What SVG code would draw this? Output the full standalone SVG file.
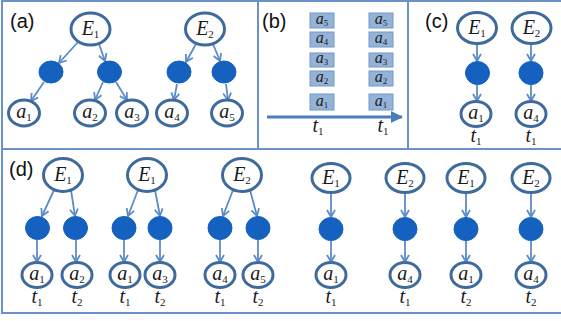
<svg xmlns="http://www.w3.org/2000/svg" width="561" height="321" viewBox="0 0 561 321">
<defs>
<marker id="arr" markerUnits="userSpaceOnUse" markerWidth="12" markerHeight="12" refX="9" refY="5" orient="auto">
<path d="M2,1 L9,5 L2,9" fill="none" stroke="#5b8bc9" stroke-width="1.8"/>
</marker>
<marker id="arrB" markerUnits="userSpaceOnUse" markerWidth="14" markerHeight="14" refX="11" refY="6" orient="auto">
<path d="M0,0 L12,6 L0,12 Z" fill="#4a7ebb"/>
</marker>
<style>
.frame{fill:none;stroke:#6a92c6;stroke-width:2}
.en{fill:#fff;stroke:#3f6a9c;stroke-width:3}
.dot{fill:#1461bf;stroke:#1461bf}
.e{stroke:#5b8bc9;stroke-width:1.8;fill:none;marker-end:url(#arr)}
.v{font-family:"Liberation Serif",serif;font-style:italic;font-size:20px;fill:#1a1a1a;text-anchor:middle}
.vb{font-size:16px}
.s{font-style:normal;font-size:11px}
.sb{font-style:normal;font-size:9px}
.lab{font-family:"Liberation Sans",sans-serif;font-size:20px;fill:#111}
.box{fill:#95b3d7;stroke:#7098cb;stroke-width:1}
</style>
</defs>
<rect x="0" y="0" width="561" height="321" fill="#fff"/>
<g id="frame">
<rect class="frame" x="2" y="1" width="562" height="312"/>
<line class="frame" x1="2" y1="149" x2="561" y2="149"/>
<line class="frame" x1="258" y1="1" x2="258" y2="149"/>
<line class="frame" x1="408" y1="1" x2="408" y2="149"/>
</g>
<g id="labels">
<text class="lab" x="10" y="28">(a)</text>
<text class="lab" x="262" y="28">(b)</text>
<text class="lab" x="425" y="28">(c)</text>
<text class="lab" x="9" y="176">(d)</text>
</g>
<g id="connectors">
<line class="e" x1="78" y1="42" x2="59" y2="63"/>
<line class="e" x1="99" y1="44" x2="105" y2="61"/>
<line class="e" x1="44" y1="82" x2="31" y2="101"/>
<line class="e" x1="103" y1="82" x2="95" y2="100"/>
<line class="e" x1="116" y1="82" x2="127" y2="100"/>
<line class="e" x1="196" y1="44" x2="186" y2="62"/>
<line class="e" x1="213" y1="44" x2="220" y2="61"/>
<line class="e" x1="177" y1="84" x2="174" y2="100"/>
<line class="e" x1="226" y1="84" x2="228" y2="100"/>
<line x1="267" y1="117" x2="402" y2="117" stroke="#4a7ebb" stroke-width="3" marker-end="url(#arrB)"/>
<line class="e" x1="477" y1="44" x2="477" y2="61"/>
<line class="e" x1="477" y1="85" x2="477" y2="101"/>
<line class="e" x1="531" y1="44" x2="531" y2="61"/>
<line class="e" x1="531" y1="85" x2="531" y2="101"/>
<line class="e" x1="54" y1="190" x2="42" y2="216"/>
<line class="e" x1="71" y1="190" x2="75" y2="216"/>
<line class="e" x1="37" y1="240" x2="37" y2="262"/>
<line class="e" x1="76" y1="240" x2="76" y2="262"/>
<line class="e" x1="138" y1="190" x2="128" y2="216"/>
<line class="e" x1="155" y1="190" x2="160" y2="216"/>
<line class="e" x1="124" y1="240" x2="124" y2="262"/>
<line class="e" x1="160" y1="240" x2="160" y2="262"/>
<line class="e" x1="233" y1="190" x2="223" y2="216"/>
<line class="e" x1="250" y1="190" x2="257" y2="216"/>
<line class="e" x1="220" y1="240" x2="220" y2="262"/>
<line class="e" x1="258" y1="240" x2="258" y2="262"/>
<line class="e" x1="331" y1="193" x2="331" y2="217"/>
<line class="e" x1="331" y1="241" x2="331" y2="262"/>
<line class="e" x1="405" y1="193" x2="405" y2="217"/>
<line class="e" x1="405" y1="241" x2="405" y2="262"/>
<line class="e" x1="466" y1="193" x2="466" y2="217"/>
<line class="e" x1="466" y1="241" x2="466" y2="262"/>
<line class="e" x1="531" y1="193" x2="531" y2="217"/>
<line class="e" x1="531" y1="241" x2="531" y2="262"/>
</g>
<!-- panel a -->
<g id="a-E1"><ellipse class="en" cx="90.5" cy="29" rx="19.5" ry="16"/><text class="v" x="90.5" y="35">E<tspan class="s" dy="3">1</tspan></text></g>
<g id="a-E2"><ellipse class="en" cx="205" cy="29" rx="19.5" ry="16"/><text class="v" x="205" y="35">E<tspan class="s" dy="3">2</tspan></text></g>
<g id="a-d1"><ellipse class="dot" cx="51" cy="72" rx="12" ry="11"/></g>
<g id="a-d2"><ellipse class="dot" cx="109.5" cy="72" rx="12" ry="11"/></g>
<g id="a-d3"><ellipse class="dot" cx="179" cy="72" rx="12" ry="11"/></g>
<g id="a-d4"><ellipse class="dot" cx="224" cy="72" rx="12" ry="11"/></g>
<g id="a-a1"><ellipse class="en" cx="24" cy="113" rx="15.5" ry="13"/><text class="v" x="24" y="118">a<tspan class="s" dy="3">1</tspan></text></g>
<g id="a-a2"><ellipse class="en" cx="90" cy="113" rx="15.5" ry="13"/><text class="v" x="90" y="118">a<tspan class="s" dy="3">2</tspan></text></g>
<g id="a-a3"><ellipse class="en" cx="132" cy="113" rx="15.5" ry="13"/><text class="v" x="132" y="118">a<tspan class="s" dy="3">3</tspan></text></g>
<g id="a-a4"><ellipse class="en" cx="172" cy="113" rx="15.5" ry="13"/><text class="v" x="172" y="118">a<tspan class="s" dy="3">4</tspan></text></g>
<g id="a-a5"><ellipse class="en" cx="227" cy="113" rx="15.5" ry="13"/><text class="v" x="227" y="118">a<tspan class="s" dy="3">5</tspan></text></g>
<!-- panel b -->
<g id="b-col1">
<rect class="box" x="310" y="13" width="24" height="15"/><text class="v vb" x="322" y="24">a<tspan class="sb" dy="2">5</tspan></text>
<rect class="box" x="310" y="32" width="24" height="15"/><text class="v vb" x="322" y="43">a<tspan class="sb" dy="2">4</tspan></text>
<rect class="box" x="310" y="53" width="24" height="14"/><text class="v vb" x="322" y="63">a<tspan class="sb" dy="2">3</tspan></text>
<rect class="box" x="310" y="71" width="24" height="15"/><text class="v vb" x="322" y="82">a<tspan class="sb" dy="2">2</tspan></text>
<rect class="box" x="310" y="94" width="24" height="16"/><text class="v vb" x="322" y="106">a<tspan class="sb" dy="2">1</tspan></text>
<text class="v" x="318" y="132">t<tspan class="s" dy="3">1</tspan></text>
</g>
<g id="b-col2">
<rect class="box" x="369" y="13" width="24" height="15"/><text class="v vb" x="381" y="24">a<tspan class="sb" dy="2">5</tspan></text>
<rect class="box" x="369" y="32" width="24" height="15"/><text class="v vb" x="381" y="43">a<tspan class="sb" dy="2">4</tspan></text>
<rect class="box" x="369" y="53" width="24" height="14"/><text class="v vb" x="381" y="63">a<tspan class="sb" dy="2">3</tspan></text>
<rect class="box" x="369" y="71" width="24" height="15"/><text class="v vb" x="381" y="82">a<tspan class="sb" dy="2">2</tspan></text>
<rect class="box" x="369" y="94" width="24" height="16"/><text class="v vb" x="381" y="106">a<tspan class="sb" dy="2">1</tspan></text>
<text class="v" x="383" y="132">t<tspan class="s" dy="3">1</tspan></text>
</g>
<!-- panel c -->
<g id="c-E1"><ellipse class="en" cx="477" cy="28" rx="19.5" ry="15.5"/><text class="v" x="477" y="34">E<tspan class="s" dy="3">1</tspan></text></g>
<g id="c-d1"><ellipse class="dot" cx="477.5" cy="73" rx="12" ry="11.5"/></g>
<g id="c-a1"><ellipse class="en" cx="476" cy="114" rx="15" ry="12.5"/><text class="v" x="476" y="119">a<tspan class="s" dy="3">1</tspan></text><text class="v" x="476" y="142">t<tspan class="s" dy="3">1</tspan></text></g>
<g id="c-E2"><ellipse class="en" cx="531.5" cy="28" rx="19.5" ry="15.5"/><text class="v" x="531.5" y="34">E<tspan class="s" dy="3">2</tspan></text></g>
<g id="c-d2"><ellipse class="dot" cx="531" cy="73" rx="12" ry="11.5"/></g>
<g id="c-a4"><ellipse class="en" cx="531" cy="114" rx="15" ry="12.5"/><text class="v" x="531" y="119">a<tspan class="s" dy="3">4</tspan></text><text class="v" x="531" y="142">t<tspan class="s" dy="3">1</tspan></text></g>
<!-- panel d -->
<g id="d1-E1"><ellipse class="en" cx="63" cy="175" rx="19.5" ry="16.5"/><text class="v" x="63" y="181">E<tspan class="s" dy="3">1</tspan></text></g>
<g id="d1-d1"><ellipse class="dot" cx="37.5" cy="228" rx="12" ry="11.5"/></g>
<g id="d1-d2"><ellipse class="dot" cx="75.5" cy="228" rx="12" ry="11.5"/></g>
<g id="d1-a1"><ellipse class="en" cx="37" cy="275" rx="15" ry="12.5"/><text class="v" x="37" y="280">a<tspan class="s" dy="3">1</tspan></text><text class="v" x="37" y="303">t<tspan class="s" dy="3">1</tspan></text></g>
<g id="d1-a2"><ellipse class="en" cx="77" cy="275" rx="15" ry="12.5"/><text class="v" x="77" y="280">a<tspan class="s" dy="3">2</tspan></text><text class="v" x="77" y="303">t<tspan class="s" dy="3">2</tspan></text></g>
<g id="d2-E1"><ellipse class="en" cx="147" cy="175" rx="19.5" ry="16.5"/><text class="v" x="147" y="181">E<tspan class="s" dy="3">1</tspan></text></g>
<g id="d2-d1"><ellipse class="dot" cx="124" cy="228" rx="12" ry="11.5"/></g>
<g id="d2-d2"><ellipse class="dot" cx="160" cy="228" rx="12" ry="11.5"/></g>
<g id="d2-a1"><ellipse class="en" cx="125" cy="275" rx="15" ry="12.5"/><text class="v" x="125" y="280">a<tspan class="s" dy="3">1</tspan></text><text class="v" x="125" y="303">t<tspan class="s" dy="3">1</tspan></text></g>
<g id="d2-a3"><ellipse class="en" cx="160" cy="275" rx="15" ry="12.5"/><text class="v" x="160" y="280">a<tspan class="s" dy="3">3</tspan></text><text class="v" x="160" y="303">t<tspan class="s" dy="3">2</tspan></text></g>
<g id="d3-E2"><ellipse class="en" cx="242" cy="175" rx="19.5" ry="16.5"/><text class="v" x="242" y="181">E<tspan class="s" dy="3">2</tspan></text></g>
<g id="d3-d1"><ellipse class="dot" cx="220" cy="228" rx="12" ry="11.5"/></g>
<g id="d3-d2"><ellipse class="dot" cx="258" cy="228" rx="12" ry="11.5"/></g>
<g id="d3-a4"><ellipse class="en" cx="220" cy="275" rx="15" ry="12.5"/><text class="v" x="220" y="280">a<tspan class="s" dy="3">4</tspan></text><text class="v" x="220" y="303">t<tspan class="s" dy="3">1</tspan></text></g>
<g id="d3-a5"><ellipse class="en" cx="258" cy="275" rx="15" ry="12.5"/><text class="v" x="258" y="280">a<tspan class="s" dy="3">5</tspan></text><text class="v" x="258" y="303">t<tspan class="s" dy="3">2</tspan></text></g>
<g id="d4"><ellipse class="en" cx="331" cy="178" rx="19" ry="14.5"/><text class="v" x="331" y="184">E<tspan class="s" dy="3">1</tspan></text><ellipse class="dot" cx="331" cy="229" rx="12" ry="11.5"/><ellipse class="en" cx="331" cy="275" rx="15" ry="12.5"/><text class="v" x="331" y="280">a<tspan class="s" dy="3">1</tspan></text><text class="v" x="331" y="303">t<tspan class="s" dy="3">1</tspan></text></g>
<g id="d5"><ellipse class="en" cx="405" cy="178" rx="19" ry="14.5"/><text class="v" x="405" y="184">E<tspan class="s" dy="3">2</tspan></text><ellipse class="dot" cx="405" cy="229" rx="12" ry="11.5"/><ellipse class="en" cx="405" cy="275" rx="15" ry="12.5"/><text class="v" x="405" y="280">a<tspan class="s" dy="3">4</tspan></text><text class="v" x="405" y="303">t<tspan class="s" dy="3">1</tspan></text></g>
<g id="d6"><ellipse class="en" cx="466" cy="178" rx="19" ry="14.5"/><text class="v" x="466" y="184">E<tspan class="s" dy="3">1</tspan></text><ellipse class="dot" cx="466" cy="229" rx="12" ry="11.5"/><ellipse class="en" cx="466" cy="275" rx="15" ry="12.5"/><text class="v" x="466" y="280">a<tspan class="s" dy="3">1</tspan></text><text class="v" x="466" y="303">t<tspan class="s" dy="3">2</tspan></text></g>
<g id="d7"><ellipse class="en" cx="531" cy="178" rx="19" ry="14.5"/><text class="v" x="531" y="184">E<tspan class="s" dy="3">2</tspan></text><ellipse class="dot" cx="531" cy="229" rx="12" ry="11.5"/><ellipse class="en" cx="531" cy="275" rx="15" ry="12.5"/><text class="v" x="531" y="280">a<tspan class="s" dy="3">4</tspan></text><text class="v" x="531" y="303">t<tspan class="s" dy="3">2</tspan></text></g>
</svg>
